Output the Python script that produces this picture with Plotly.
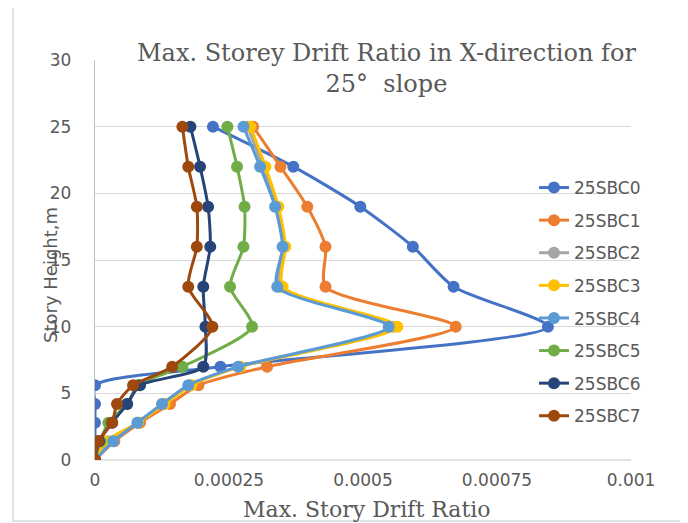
import plotly.graph_objects as go

heights = [0, 1.4, 2.8, 4.2, 5.6, 7, 10, 13, 16, 19, 22, 25]

series_names = ["25SBC0", "25SBC1", "25SBC2", "25SBC3", "25SBC4", "25SBC5", "25SBC6", "25SBC7"]

sbc0 = [0, 0, 0, 0, 0, 0.000234, 0.000845, 0.000669, 0.000593, 0.000495, 0.00037, 0.00022]
sbc1 = [0, 0.000036, 0.000084, 0.00014, 0.000193, 0.000321, 0.000673, 0.00043, 0.00043, 0.000396, 0.000346, 0.000295]
sbc2 = [0, 0.000025, 0.00008, 0.000128, 0.000178, 0.000269, 0.000556, 0.000345, 0.000352, 0.000339, 0.000313, 0.000285]
sbc3 = [0, 0.00002, 0.00008, 0.00013, 0.00018, 0.000271, 0.000564, 0.00035, 0.000355, 0.000342, 0.000318, 0.00029]
sbc4 = [0, 0.000034, 0.000079, 0.000125, 0.000174, 0.000267, 0.000548, 0.00034, 0.00035, 0.000336, 0.000308, 0.000277]
sbc5 = [0, 0.00001, 0.000025, 0.00006, 0.00008, 0.000163, 0.000293, 0.000252, 0.000277, 0.000279, 0.000265, 0.000247]
sbc6 = [0, 0.0000075, 0.000032, 0.00006, 0.000084, 0.000202, 0.000206, 0.000202, 0.000215, 0.000211, 0.000196, 0.000178]
sbc7 = [0, 0.0000056, 0.000032, 0.000041, 0.000071, 0.000144, 0.000219, 0.000174, 0.00019, 0.00019, 0.000174, 0.000163]

all_series = [sbc0, sbc1, sbc2, sbc3, sbc4, sbc5, sbc6, sbc7]
colors = ["#4472C4", "#ED7D31", "#A5A5A5", "#FFC000", "#5B9BD5", "#70AD47", "#264478", "#9E480E"]

x_ticks = [0, 0.00025, 0.0005, 0.00075, 0.001]
x_tick_labels = ["0", "0.00025", "0.0005", "0.00075", "0.001"]
y_ticks = [0, 5, 10, 15, 20, 25, 30]

fig = go.Figure()
for name, vals, col in zip(series_names, all_series, colors):
    fig.add_trace(go.Scatter(
        x=vals, y=heights, name=name, legendgroup=name,
        mode="lines+markers",
        line=dict(color=col, width=3, shape="spline", smoothing=0.7),
        marker=dict(color=col, size=12),
    ))

# page has an 8px body margin; compensate so page pixels match the reference
OFF = 8
W, H = 688 - OFF, 523 - OFF
L, R, T, B = 95 - OFF, 688 - 631, 60 - OFF, 523 - 460
PW, PH = W - L - R, H - T - B

def px(xp):
    return (xp - OFF - L) / PW

def py(yp):
    return (H - B - (yp - OFF)) / PH

grey = "#595959"
fig.update_layout(
    width=W, height=H,
    margin=dict(l=L, r=R, t=T, b=B, autoexpand=False),
    paper_bgcolor="white", plot_bgcolor="white",
    showlegend=True,
    legend=dict(x=px(534), y=py(170), xanchor="left", yanchor="top",
                bgcolor="rgba(0,0,0,0)", tracegroupgap=7.5,
                font=dict(family="DejaVu Sans", size=17, color=grey)),
    xaxis=dict(range=[0, 0.001], tickvals=x_ticks, ticktext=x_tick_labels,
               showgrid=False, zeroline=False, showline=False, automargin=False,
               ticks="", ticklabelstandoff=8,
               tickfont=dict(family="DejaVu Sans", size=17, color=grey)),
    yaxis=dict(range=[0, 30], tickvals=y_ticks, automargin=False,
               showgrid=True, gridcolor="#D9D9D9", gridwidth=1.3,
               zeroline=False, showline=True, linecolor="#BFBFBF", linewidth=1.3,
               ticks="", ticklabelstandoff=19,
               tickfont=dict(family="DejaVu Sans", size=17, color=grey)),
    shapes=[
        dict(type="rect", xref="paper", yref="paper",
             x0=px(13), x1=px(683), y0=py(521), y1=py(7),
             line=dict(color="#D9D9D9", width=1.5), layer="below"),
        dict(type="line", xref="paper", yref="paper",
             x0=0, x1=1, y0=0, y1=0,
             line=dict(color="#D9D9D9", width=1.5), layer="below"),
    ],
    annotations=[
        dict(text="Max. Storey Drift Ratio in X-direction for<br>25°  slope",
             xref="paper", yref="paper", x=px(386), y=py(37),
             xanchor="center", yanchor="top", showarrow=False,
             font=dict(family="DejaVu Serif", size=24, color=grey)),
        dict(text="Max. Story Drift Ratio", xref="paper", yref="paper",
             x=px(367), y=py(509), xanchor="center", yanchor="middle",
             showarrow=False,
             font=dict(family="DejaVu Serif", size=22, color=grey)),
        dict(text="Story Height,m", xref="paper", yref="paper",
             x=px(50), y=py(275), xanchor="center", yanchor="middle",
             textangle=-90, showarrow=False,
             font=dict(family="DejaVu Sans", size=18, color=grey)),
    ],
)

fig.write_html("out.html")
